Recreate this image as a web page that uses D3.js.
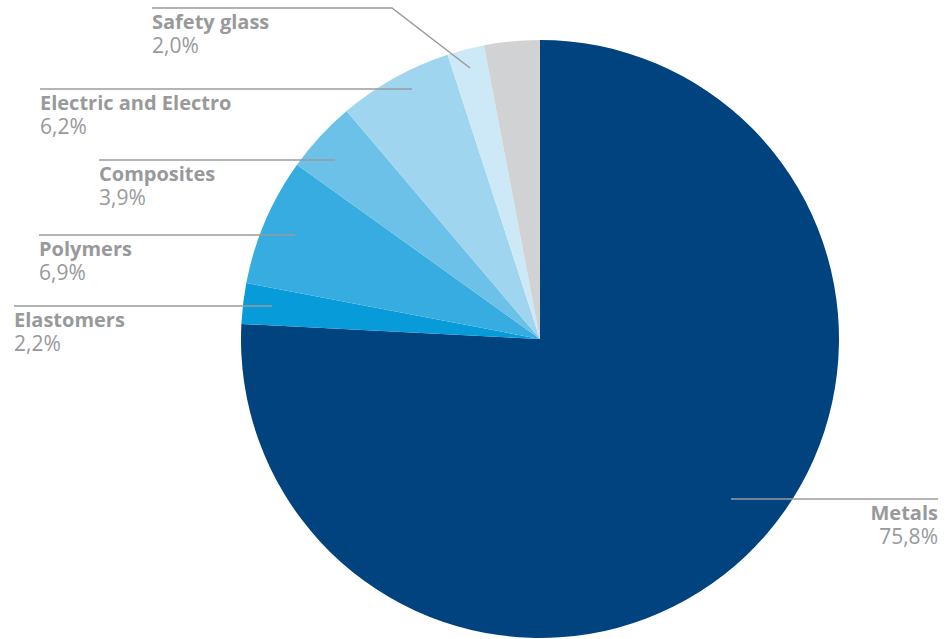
<!DOCTYPE html>
<html>
<head>
<meta charset="utf-8">
<script src="https://cdn.jsdelivr.net/npm/d3@7"></script>
<style>
  body { margin: 0; background: #fff; }
  text { font-family: "Open Sans", Roboto, sans-serif; }
</style>
</head>
<body>
<div id="chart"></div>
<script>
// data
const categories = ["Metals", "Elastomers", "Polymers", "Composites", "Electric and Electro", "Safety glass", "Other"];
const values = [75.8, 2.2, 6.9, 3.9, 6.2, 2.0, 3.0];
const colors = ["#00437f", "#089bd9", "#37ace0", "#6bc1e8", "#9fd5ef", "#cde8f6", "#d1d2d4"];
const labelText = ["75,8%", "2,2%", "6,9%", "3,9%", "6,2%", "2,0%", ""];

// label layout (x start, y of leader, x end of leader, anchor, optional elbow point)
const labelLayout = [
  {x: 938, y: 499, lineFrom: 731, anchor: "end"},
  {x: 14, y: 306, lineTo: 272, anchor: "start"},
  {x: 39, y: 235, lineTo: 295, anchor: "start"},
  {x: 99, y: 160, lineTo: 335, anchor: "start"},
  {x: 40, y: 89, lineTo: 412, anchor: "start"},
  {x: 152, y: 8, lineTo: 392, anchor: "start", elbow: [470, 68]},
  null
];

const width = 945, height = 639;
const cx = 540, cy = 339, radius = 299;

let svg = d3.select("#chart").append("svg")
    .attr("width", width)
    .attr("height", height);

let pie = d3.pie().sort(null).value(d => d.value);
let arc = d3.arc().innerRadius(0).outerRadius(radius);

let data = categories.map((c, i) => ({name: c, value: values[i], color: colors[i], pct: labelText[i], layout: labelLayout[i]}));

let g = svg.append("g").attr("transform", `translate(${cx},${cy})`);
g.selectAll("path")
    .data(pie(data))
    .enter()
    .append("path")
    .attr("d", arc)
    .attr("fill", d => d.data.color);

// leader lines + labels
let labels = svg.append("g");
data.forEach(d => {
    let l = d.layout;
    if (!l) return;
    let pts;
    if (l.anchor === "end") {
        pts = [[l.lineFrom, l.y], [l.x, l.y]];
    } else {
        pts = [[l.x, l.y], [l.lineTo, l.y]];
        if (l.elbow) pts.push(l.elbow);
    }
    labels.append("path")
        .attr("d", d3.line()(pts))
        .attr("fill", "none")
        .attr("stroke", "#9a9b9d")
        .attr("stroke-width", 1.5);

    labels.append("text")
        .attr("x", l.x)
        .attr("y", l.y + 21)
        .attr("text-anchor", l.anchor)
        .attr("font-size", 20)
        .attr("font-weight", "bold")
        .attr("fill", "#98999b")
        .text(d.name);
    labels.append("text")
        .attr("x", l.x)
        .attr("y", l.y + 45)
        .attr("text-anchor", l.anchor)
        .attr("font-size", 21)
        .attr("fill", "#98999b")
        .text(d.pct);
});
</script>
</body>
</html>
